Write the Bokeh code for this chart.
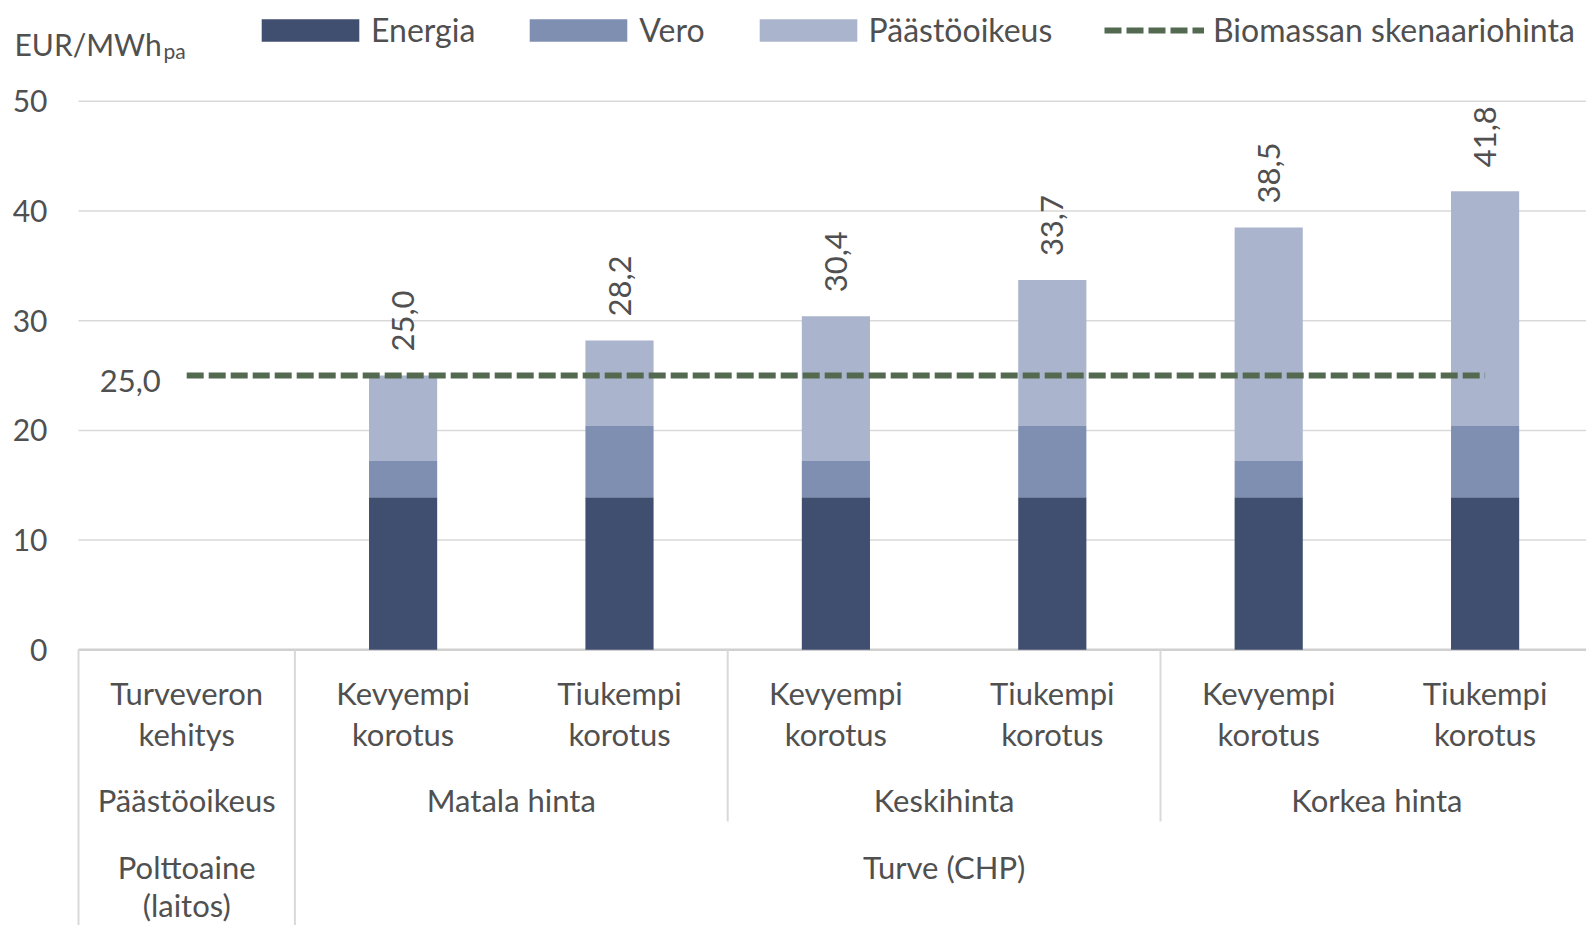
from bokeh.plotting import figure
from bokeh.models import Range1d, Legend, LegendItem, Label, ColumnDataSource
from bokeh.core.properties import value
from bokeh.embed import file_html
from bokeh.resources import INLINE
import math

# ---------------- data ----------------
row_headers = ["Turveveron kehitys", "Päästöoikeus", "Polttoaine (laitos)"]
tax_dev = ["Kevyempi korotus", "Tiukempi korotus", "Kevyempi korotus",
           "Tiukempi korotus", "Kevyempi korotus", "Tiukempi korotus"]
emission_price = ["Matala hinta", "Matala hinta", "Keskihinta", "Keskihinta",
                  "Korkea hinta", "Korkea hinta"]
fuel = ["Turve (CHP)", "Turve (CHP)", "Turve (CHP)", "Turve (CHP)",
        "Turve (CHP)", "Turve (CHP)"]

energia = [13.9, 13.9, 13.9, 13.9, 13.9, 13.9]
vero = [3.3, 6.5, 3.3, 6.5, 3.3, 6.5]
paastooikeus = [7.8, 7.8, 13.2, 13.3, 21.3, 21.4]
biomassa = [25.0, 25.0, 25.0, 25.0, 25.0, 25.0, 25.0]

series_names = ["Energia", "Vero", "Päästöoikeus"]
line_name = "Biomassan skenaariohinta"
y_ticks = [0, 10, 20, 30, 40, 50]
y_unit = "EUR/MWh"
y_unit_sub = "pa"

# ---------------- style / layout ----------------
FONT = "Lato"
FS = "31px"          # table words
FS_LEG = "32px"      # legend
FS_NUM = "30px"      # tick numbers
FS_VAL = "31px"      # value labels
TXT = "#505050"
COLORS = ["#404f6f", "#7f8fb2", "#aab4cc"]
LINE_COLOR = "#536a50"
GRID = "#d9d9d9"

W, H = 1586, 925
CAT_PX = 216.4           # pixels per category
UNIT_PX = 10.97          # pixels per EUR/MWh
X0_PX, Y0_PX = 78.0, 649.3   # page position of x=-0.5 and y=0

X_MIN = -0.5 - X0_PX / CAT_PX
X_MAX = X_MIN + W / CAT_PX
Y_MAX = Y0_PX / UNIT_PX
Y_MIN = Y_MAX - H / UNIT_PX

def px_x(px):
    return X_MIN + px / CAT_PX

def px_y(py):
    return Y_MAX - py / UNIT_PX

p = figure(width=W, height=H, x_range=Range1d(X_MIN, X_MAX),
           y_range=Range1d(Y_MIN, Y_MAX), output_backend="svg",
           toolbar_location=None, min_border=0,
           x_axis_location=None, y_axis_location=None)
p.outline_line_color = None
p.grid.visible = False

def txt(x, y, t, align="center", size=FS, **kw):
    return p.text(x=x, y=y, text=t, text_align=align, text_baseline="middle",
                  text_font=value(FONT), text_font_size=size, text_color=TXT, **kw)

# ---------------- y axis (grid + tick labels from the linear scale) ----------------
p.segment(x0=[-0.5] * len(y_ticks), x1=[X_MAX] * len(y_ticks), y0=y_ticks, y1=y_ticks,
          line_color=GRID, line_width=1.5)
p.segment(x0=[-0.5], x1=[X_MAX], y0=[0], y1=[0], line_color="#d0d0d0", line_width=2.5)
txt([-0.5 - 31 / CAT_PX] * len(y_ticks), y_ticks, [str(t) for t in y_ticks],
    align="right", size=FS_NUM)

# ---------------- bars ----------------
xs = list(range(1, len(energia) + 1))
totals = [round(a + b + c, 1) for a, b, c in zip(energia, vero, paastooikeus)]
src = ColumnDataSource(dict(x=xs, Energia=energia, Vero=vero,
                            **{"Päästöoikeus": paastooikeus}))
bars = p.vbar_stack(series_names, x="x", width=0.315, source=src, color=COLORS,
                    line_color=None)

LABEL_PAD = 24 / UNIT_PX
p.text(x=xs, y=[t + LABEL_PAD for t in totals],
       text=[f"{t:.1f}".replace(".", ",") for t in totals],
       angle=math.pi / 2, text_align="left", text_baseline="middle",
       text_font=value(FONT), text_font_size=FS_VAL, text_color=TXT)

# biomass line
bx = list(range(len(biomassa)))
bl = p.line(bx, biomassa, line_color=LINE_COLOR, line_width=6, line_dash="17 5")
txt([bx[0] - 26 / CAT_PX], [biomassa[0] - 5 / UNIT_PX],
    [f"{biomassa[0]:.1f}".replace(".", ",")], align="right", size=FS_VAL)

# ---------------- category table ----------------
ROW1_L1 = (Y0_PX - 692) / UNIT_PX
ROW1_L2 = (Y0_PX - 733) / UNIT_PX
ROW2 = (Y0_PX - 799) / UNIT_PX
ROW3_L1 = (Y0_PX - 866) / UNIT_PX
ROW3_L2 = (Y0_PX - 904) / UNIT_PX
GROUP_DIV_END = (Y0_PX - 821) / UNIT_PX

def split2(s):
    a, b = s.split(" ", 1)
    return a, b

col_x = [0] + xs
lvl1 = [row_headers[0]] + tax_dev
txt(col_x, [ROW1_L1] * len(col_x), [split2(s)[0] for s in lvl1])
txt(col_x, [ROW1_L2] * len(col_x), [split2(s)[1] for s in lvl1])

def groups(labels):
    out = []
    for i, lab in enumerate(labels):
        if out and out[-1][0] == lab:
            out[-1][1].append(xs[i])
        else:
            out.append((lab, [xs[i]]))
    return [(lab, sum(v) / len(v), min(v), max(v)) for lab, v in out]

g2 = groups(emission_price)
txt([0] + [g[1] for g in g2], [ROW2] * (len(g2) + 1),
    [row_headers[1]] + [g[0] for g in g2])

g3 = groups(fuel)
txt([0] + [g[1] for g in g3], [ROW3_L1] * (len(g3) + 1),
    [split2(row_headers[2])[0]] + [g[0] for g in g3])
txt([0], [ROW3_L2], [split2(row_headers[2])[1]])

full_div = [-0.5, 0.5]
grp_div = [g[3] + 0.5 for g in g2[:-1]]
p.segment(x0=full_div + grp_div, y0=[0] * (len(full_div) + len(grp_div)),
          x1=full_div + grp_div,
          y1=[Y_MIN] * len(full_div) + [GROUP_DIV_END] * len(grp_div),
          line_color=GRID, line_width=2)

# ---------------- unit label ----------------
p.add_layout(Label(x=px_x(14), y=px_y(43), text=y_unit, text_font=FONT,
                   text_font_size="30px", text_color=TXT, text_baseline="alphabetic",
                   text_align="left"))
p.add_layout(Label(x=px_x(163), y=px_y(50), text=y_unit_sub, text_font=FONT,
                   text_font_size="21px", text_color=TXT,
                   text_baseline="alphabetic", text_align="left"))

# ---------------- legends ----------------
GW = 122
GH = 28
legend_style = dict(orientation="horizontal", padding=0, margin=0,
                    border_line_color=None, background_fill_alpha=0,
                    label_text_font=FONT, label_text_font_size=FS_LEG,
                    label_text_color=TXT)
items = [LegendItem(label=n, renderers=[r]) for n, r in zip(series_names, bars)]
leg1 = Legend(items=items, location=(249, 876), glyph_width=GW,
              glyph_height=GH, label_standoff=0, spacing=42, **legend_style)
leg2 = Legend(items=[LegendItem(label=line_name, renderers=[bl])],
              location=(1104, 876), glyph_width=100, glyph_height=GH,
              label_standoff=9, **legend_style)
p.add_layout(leg1)
p.add_layout(leg2)

open("out.html", "w").write(file_html(p, INLINE))
